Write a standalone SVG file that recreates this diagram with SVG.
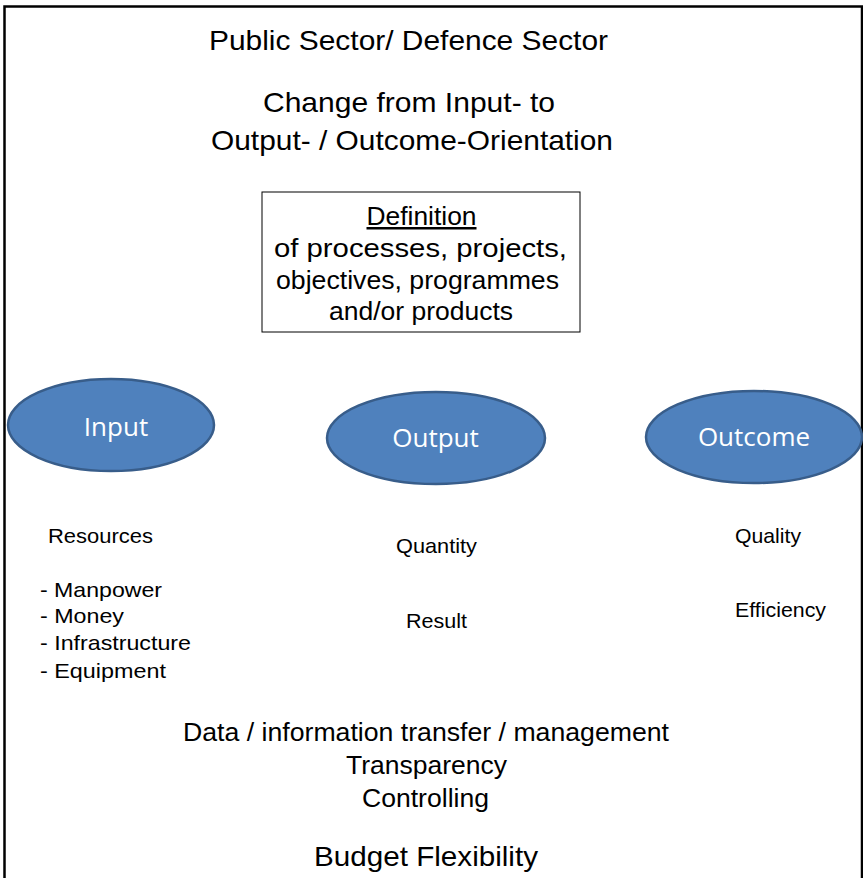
<svg xmlns="http://www.w3.org/2000/svg" width="863" height="878" viewBox="0 0 863 878">
<style>
.t{font-family:"Liberation Sans",Arial,sans-serif;fill:#000;}
.c{text-anchor:middle;}
.ell{fill:#4F81BD;stroke:#385D8A;stroke-width:2.5;}
.et{font-family:"Open Sans","Noto Sans",sans-serif;fill:#fff;font-size:26px;text-anchor:middle;}
</style>
<rect width="863" height="878" fill="#fff"/>
<path d="M4.5,878 V6.5 H862 V878" fill="none" stroke="#000" stroke-width="2.5"/>
<g id="title">
<text class="t c" x="408.5" y="50" font-size="28" textLength="399" lengthAdjust="spacingAndGlyphs">Public Sector/ Defence Sector</text>
<text class="t c" x="409" y="112" font-size="28" textLength="292" lengthAdjust="spacingAndGlyphs">Change from Input- to</text>
<text class="t c" x="412" y="150" font-size="28" textLength="402" lengthAdjust="spacingAndGlyphs">Output- / Outcome-Orientation</text>
</g>
<g id="definition">
<rect x="262" y="192" width="318" height="140" fill="#fff" stroke="#000" stroke-width="1"/>
<text class="t c" x="421.5" y="225" font-size="25" text-decoration="underline" textLength="110" lengthAdjust="spacingAndGlyphs">Definition</text>
<text class="t c" x="420.5" y="257" font-size="25" textLength="293" lengthAdjust="spacingAndGlyphs">of processes, projects,</text>
<text class="t c" x="417.5" y="289" font-size="25" textLength="283" lengthAdjust="spacingAndGlyphs">objectives, programmes</text>
<text class="t c" x="421" y="320" font-size="25" textLength="184" lengthAdjust="spacingAndGlyphs">and/or products</text>
</g>
<g id="input">
<ellipse class="ell" cx="111" cy="425" rx="103" ry="46"/>
<text class="et" x="116" y="436">Input</text>
</g>
<g id="output">
<ellipse class="ell" cx="436" cy="438" rx="109" ry="46"/>
<text class="et" x="435.5" y="447">Output</text>
</g>
<g id="outcome">
<ellipse class="ell" cx="754" cy="437" rx="108" ry="46"/>
<text class="et" x="754" y="446">Outcome</text>
</g>
<g id="connectors"></g>
<g id="input-details">
<text class="t" x="48" y="543" font-size="21" textLength="105" lengthAdjust="spacingAndGlyphs">Resources</text>
<text class="t" x="40" y="597" font-size="21" textLength="122" lengthAdjust="spacingAndGlyphs">- Manpower</text>
<text class="t" x="40" y="623" font-size="21" textLength="84" lengthAdjust="spacingAndGlyphs">- Money</text>
<text class="t" x="40" y="650" font-size="21" textLength="151" lengthAdjust="spacingAndGlyphs">- Infrastructure</text>
<text class="t" x="40" y="678" font-size="21" textLength="126" lengthAdjust="spacingAndGlyphs">- Equipment</text>
</g>
<g id="output-details">
<text class="t c" x="436.5" y="553" font-size="21" textLength="81" lengthAdjust="spacingAndGlyphs">Quantity</text>
<text class="t c" x="436.5" y="628" font-size="21" textLength="61" lengthAdjust="spacingAndGlyphs">Result</text>
</g>
<g id="outcome-details">
<text class="t c" x="768" y="543" font-size="21" textLength="66" lengthAdjust="spacingAndGlyphs">Quality</text>
<text class="t c" x="780.5" y="617" font-size="21" textLength="91" lengthAdjust="spacingAndGlyphs">Efficiency</text>
</g>
<g id="footer">
<text class="t c" x="426" y="741" font-size="25" textLength="486" lengthAdjust="spacingAndGlyphs">Data / information transfer / management</text>
<text class="t c" x="426.5" y="774" font-size="25" textLength="161" lengthAdjust="spacingAndGlyphs">Transparency</text>
<text class="t c" x="425.5" y="807" font-size="25" textLength="127" lengthAdjust="spacingAndGlyphs">Controlling</text>
<text class="t c" x="426" y="866" font-size="28" textLength="224" lengthAdjust="spacingAndGlyphs">Budget Flexibility</text>
</g>
</svg>
